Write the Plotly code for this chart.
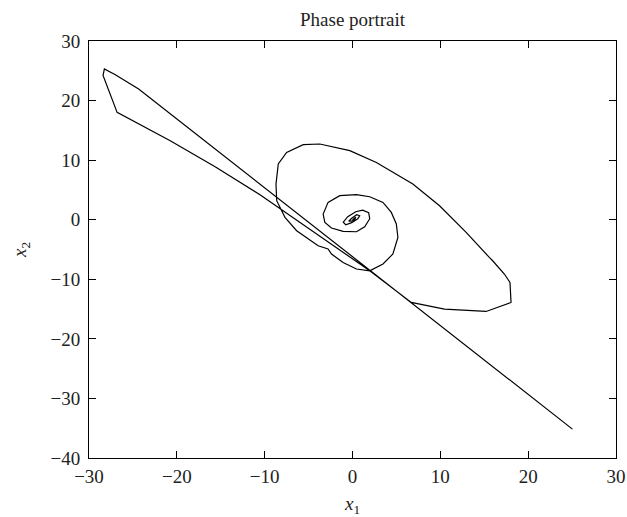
import plotly.graph_objects as go

# Sampled trajectory of the state (x1, x2), from the initial point to the origin
x1 = [25.04, -24.35, -27.0, -28.25, -28.4, -26.8,
      -20.75, -15.64, -10.53, -4.29, 1.96, 6.69,
      10.47, 15.21, 18.05, 17.93, 17.29, 15.96, 15.58,
      12.94, 9.91, 6.87, 2.72, -0.31, -3.72, -5.61, -7.5,
      -8.45, -8.71, -8.63, -7.69, -6.36, -3.91, -2.78, -2.39,
      -1.07, 0.45, 1.96,
      3.47, 4.6, 5.17, 4.99, 4.42, 3.47, 1.96, 0.45, -1.45,
      -2.78, -3.34, -3.15, -2.39, -1.07, 0.45,
      1.39, 1.96, 1.84, 1.16, 0.37, -0.54, -1.05, -0.77,
      -0.09, 0.6, 0.82, 0.48, -0.09, -0.43, -0.09, 0.26,
      0.37, 0.03, 0.0]
x2 = [-35.15, 21.95, 24.35, 25.31, 24.2, 18.02,
      13.27, 8.90, 4.20, -2.18, -8.57, -13.89,
      -15.0, -15.40, -13.89, -10.53, -9.12, -6.89, -6.33,
      -2.13, 2.35, 6.0, 9.62, 11.59, 12.71, 12.6, 11.3,
      9.36, 6.0, 3.19, 0.39, -1.85, -4.37, -4.92, -5.76,
      -7.17, -8.28, -8.57,
      -7.44, -5.76, -2.97, -0.72, 1.23, 2.91, 3.86, 4.2, 4.03,
      2.91, 0.96, -0.45, -1.39, -1.96, -2.02,
      -1.18, 0.17, 1.18, 1.6, 1.34, 0.5, -0.42, -0.84,
      -0.5, 0.17, 0.67, 0.84, 0.25, -0.25, -0.25, 0.08,
      0.42, 0.08, 0.0]

x_ticks = [-30, -20, -10, 0, 10, 20, 30]
y_ticks = [-40, -30, -20, -10, 0, 10, 20, 30]

serif = "Liberation Serif, Times New Roman, serif"
text_color = "#222"

fig = go.Figure()
fig.add_trace(go.Scatter(
    x=x1, y=x2, mode="lines",
    line=dict(color="black", width=1.2),
    showlegend=False,
))

axis_common = dict(
    showline=True, linecolor="black", linewidth=1, mirror="ticks",
    ticks="inside", ticklen=7, tickwidth=1, tickcolor="black",
    showgrid=False, zeroline=False, automargin=False,
    tickfont=dict(family=serif, size=19, color=text_color),
)

fig.update_layout(
    width=627, height=517,
    margin=dict(l=89, r=11, t=41, b=59),
    paper_bgcolor="white", plot_bgcolor="white",
    title=dict(text="Phase portrait", x=352.5 / 627, xanchor="center",
               y=1 - 19 / 517, yanchor="middle", yref="container",
               font=dict(family=serif, size=19, color=text_color)),
    xaxis=dict(range=[-30, 30], tickvals=x_ticks, ticklabelstandoff=1,
               title=dict(text="<i>x</i><sub>1</sub>", standoff=20,
                          font=dict(family=serif, size=19, color=text_color)),
               **axis_common),
    yaxis=dict(range=[-40, 30], tickvals=y_ticks, ticklabelstandoff=4,
               title=dict(text="<i>x</i><sub>2</sub>", standoff=18,
                          font=dict(family=serif, size=19, color=text_color)),
               **axis_common),
)

fig.write_html("out.html")
